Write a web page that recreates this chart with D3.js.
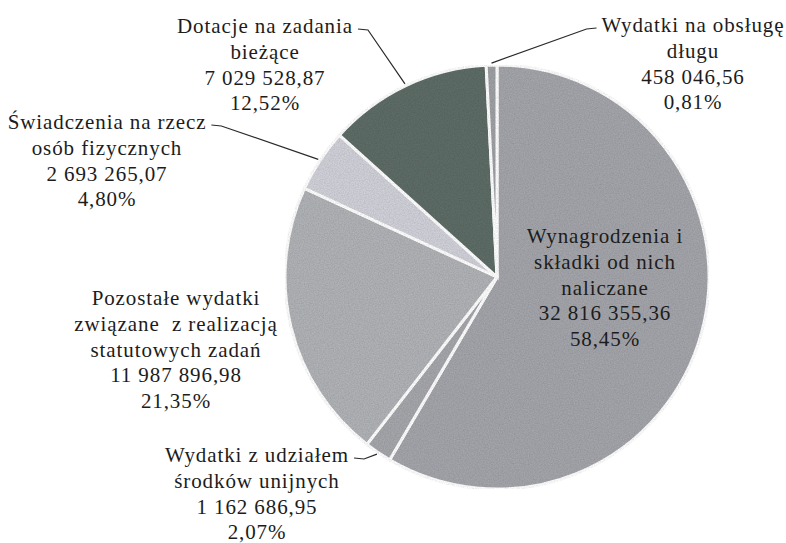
<!DOCTYPE html>
<html>
<head>
<meta charset="utf-8">
<script src="https://cdn.jsdelivr.net/npm/d3@7"></script>
<style>
  html, body { margin: 0; padding: 0; background: #fff; }
</style>
</head>
<body>
<svg id="chart" width="786" height="543"></svg>
<script>
// Data
const categories = [
  ['Wynagrodzenia i', 'składki od nich', 'naliczane'],
  ['Wydatki z udziałem', 'środków unijnych'],
  ['Pozostałe wydatki', 'związane\u00a0 z realizacją', 'statutowych zadań'],
  ['Świadczenia na rzecz', 'osób fizycznych'],
  ['Dotacje na zadania', 'bieżące'],
  ['Wydatki na obsługę', 'długu']
];
const values = [32816355.36, 1162686.95, 11987896.98, 2693265.07, 7029528.87, 458046.56];
const valueLabels = ['32 816 355,36', '1 162 686,95', '11 987 896,98', '2 693 265,07', '7 029 528,87', '458 046,56'];
const percentLabels = ['58,45%', '2,07%', '21,35%', '4,80%', '12,52%', '0,81%'];

// Layout
const width = 786, height = 543;
const cx = 497, cy = 277, radius = 212;
const fontSize = 21, lineHeight = 25.8;
const colors = ['#a4a6ab', '#a6a7ac', '#b1b3b7', '#d1d1da', '#5e6d68', '#9fa1a5'];

// Label anchors: centre x, first line y, and which side the leader leaves from
const labelPlacement = [
  { x: 605, y: 236, leader: null },
  { x: 257, y: 455, leader: 'right' },
  { x: 176, y: 298, leader: null },
  { x: 107, y: 122, leader: 'right' },
  { x: 265, y: 26, leader: 'right' },
  { x: 693, y: 25, leader: 'left' }
];

const svg = d3.select('#chart');

// Light grain so the fills look like the scanned original
const grain = svg.append('defs').append('filter')
  .attr('id', 'grain')
  .attr('x', 0).attr('y', 0).attr('width', 1).attr('height', 1);
grain.append('feTurbulence')
  .attr('type', 'fractalNoise')
  .attr('baseFrequency', 0.8)
  .attr('numOctaves', 2)
  .attr('seed', 3)
  .attr('result', 'noise');
grain.append('feColorMatrix')
  .attr('in', 'noise')
  .attr('type', 'matrix')
  .attr('values', '0 0 0 0 0  0 0 0 0 0  0 0 0 0 0  0 0 0 0.35 -0.08')
  .attr('result', 'dots');
grain.append('feComposite')
  .attr('in', 'dots')
  .attr('in2', 'SourceGraphic')
  .attr('operator', 'in')
  .attr('result', 'dotsIn');
grain.append('feMerge').call(m => {
  m.append('feMergeNode').attr('in', 'SourceGraphic');
  m.append('feMergeNode').attr('in', 'dotsIn');
});

const g = svg.append('g').attr('transform', `translate(${cx},${cy})`);

const pie = d3.pie().sort(null).value(d => d);
const arcs = pie(values);
const arc = d3.arc().innerRadius(0).outerRadius(radius);

// Slices
g.append('g')
  .attr('filter', 'url(#grain)')
  .selectAll('path.slice')
  .data(arcs)
  .enter()
  .append('path')
    .attr('class', 'slice')
    .attr('d', arc)
    .attr('fill', (d, i) => colors[i])
    .attr('stroke', '#fff')
    .attr('stroke-width', 3)
    .attr('stroke-linejoin', 'miter');

// Labels: one text per line
const labels = svg.append('g').attr('class', 'labels');
arcs.forEach((a, i) => {
  const p = labelPlacement[i];
  const lines = categories[i].concat([valueLabels[i], percentLabels[i]]);
  let firstWidth = 0;
  lines.forEach((ln, k) => {
    const t = labels.append('text')
      .attr('x', p.x)
      .attr('y', p.y + k * lineHeight + 7)
      .attr('text-anchor', 'middle')
      .style('font-family', "'Liberation Serif'")
      .style('font-size', fontSize + 'px')
      .style('letter-spacing', '0.9px')
      .style('fill', '#1c1c1c')
      .text(ln);
    if (k === 0) firstWidth = t.node().getComputedTextLength();
  });

  if (p.leader) {
    // leader line starts next to the first line of the label
    const mid = (a.startAngle + a.endAngle) / 2;
    const ex = cx + (radius + 2) * Math.sin(mid);
    const ey = cy - (radius + 2) * Math.cos(mid);
    let sx, hx;
    if (p.leader === 'right') {
      sx = p.x + firstWidth / 2 + 5;
      hx = sx + 10;
    } else {
      sx = p.x - firstWidth / 2 - 5;
      hx = sx - 10;
    }
    const sy = p.y + 3;
    svg.append('path')
      .attr('d', d3.line()([[sx, sy], [hx, sy + 1], [ex, ey]]))
      .attr('fill', 'none')
      .attr('stroke', '#2a2a2a')
      .attr('stroke-width', 1.2);
  }
});
</script>
</body>
</html>
